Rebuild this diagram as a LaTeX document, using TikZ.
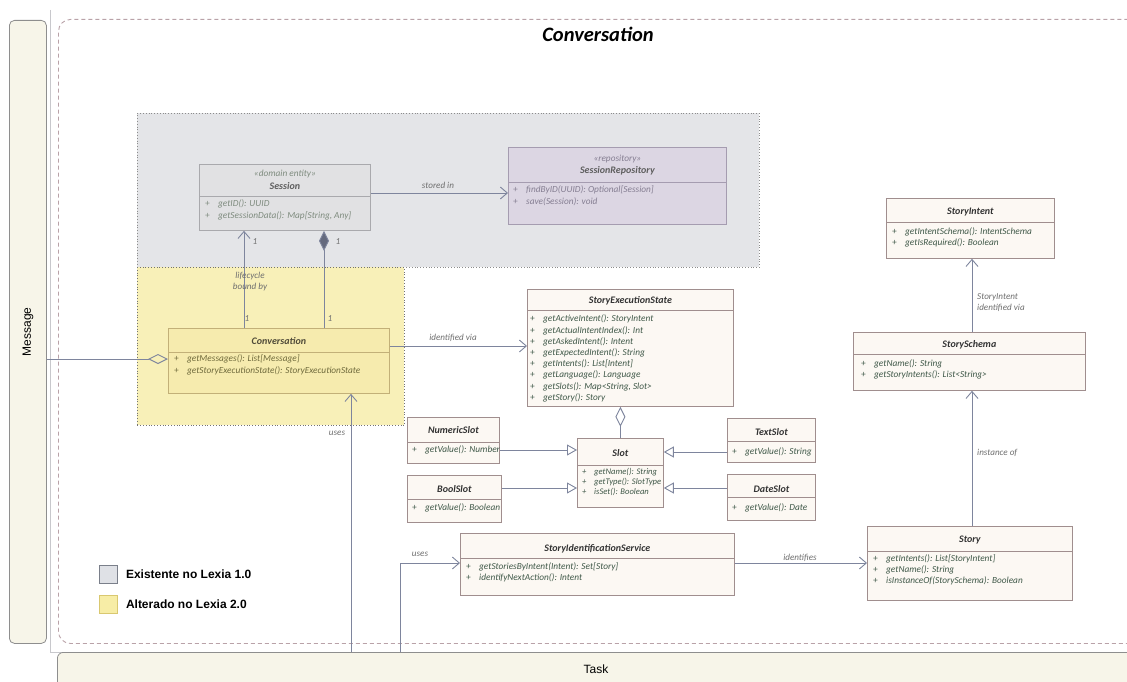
\documentclass[tikz,border=0pt]{standalone}
\usepackage{fontspec}
\setmainfont{Liberation Sans}
\newfontfamily\carl{Carlito}
\usetikzlibrary{arrows.meta}
\definecolor{clsfill}{HTML}{FCF8F3}
\definecolor{clsborder}{HTML}{A08E8E}
\definecolor{sessfill}{HTML}{E1E1E3}
\definecolor{sessborder}{HTML}{A9A9AD}
\definecolor{repofill}{HTML}{DCD6E3}
\definecolor{repoborder}{HTML}{A59CB0}
\definecolor{convfill}{HTML}{F6EBAE}
\definecolor{convborder}{HTML}{C2B078}
\definecolor{grayreg}{HTML}{E4E5E8}
\definecolor{yellowreg}{HTML}{F8F0B8}
\definecolor{methc}{HTML}{3F5848}
\definecolor{namec}{HTML}{333333}
\definecolor{sessmeth}{HTML}{7E8B7E}
\definecolor{sessname}{HTML}{5E5E5E}
\definecolor{repometh}{HTML}{857E92}
\definecolor{convmeth}{HTML}{6F6A3C}
\definecolor{convname}{HTML}{4F4A38}
\definecolor{lblc}{HTML}{6E6E6E}
\definecolor{conn}{HTML}{7E859D}
\definecolor{dashc}{HTML}{B9A2A8}
\definecolor{cream}{HTML}{F7F5E9}
\definecolor{edgegray}{HTML}{8E8E8E}
\definecolor{framec}{HTML}{C8C8CC}
\definecolor{lg1fill}{HTML}{DFE1E6}
\definecolor{lg1border}{HTML}{7A7F8A}
\definecolor{lg2fill}{HTML}{F7EDA6}
\definecolor{lg2border}{HTML}{D9C870}
\newcommand{\pl}{\makebox[13pt][l]{+}}
\tikzset{
  cls/.style={draw=clsborder, fill=clsfill, line width=0.8pt, inner sep=0pt, anchor=north west},
  sesscls/.style={cls, draw=sessborder, fill=sessfill},
  repocls/.style={cls, draw=repoborder, fill=repofill},
  convcls/.style={cls, draw=convborder, fill=convfill},
  cname/.style={font=\carl\bfseries\itshape\fontsize{10}{11}\selectfont, text=namec, inner sep=0pt},
  meth/.style={font=\carl\itshape\fontsize{9.3}{11.2}\selectfont, text=methc, align=left, inner sep=0pt, anchor=west},
  ster/.style={font=\carl\itshape\fontsize{9.3}{10}\selectfont, text=sessmeth, inner sep=0pt},
  lbl/.style={font=\carl\itshape\fontsize{9.1}{10}\selectfont, text=lblc, inner sep=0pt},
  assoc/.style={draw=conn, line width=0.9pt, -{Straight Barb[length=7pt,width=12pt]}},
  gen/.style={draw=conn, line width=0.9pt, -{Triangle[open,length=10pt,width=11pt]}},
  comp/.style={draw=conn, line width=0.9pt, -{Diamond[length=20pt,width=10pt,fill=conn!80!black]}},
  agg/.style={draw=conn, line width=0.9pt, -{Diamond[open,length=20pt,width=10pt]}},
  legtext/.style={font=\bfseries\fontsize{12}{14}\selectfont, anchor=west, inner sep=0pt},
}
\newcommand{\umlcls}[7]{%
  \node[#2,minimum width=#5pt,minimum height=#6pt] (#1) at (#3,#4) {};
  \draw[#2,fill=none] (#1.west |- 0,#7) -- (#1.east |- 0,#7);}
\begin{document}
\begin{tikzpicture}[x=1pt,y=-1pt]
\useasboundingbox (0,0) rectangle (1127,682);
% outer frame and swimlanes
\draw[framec, line width=0.8pt] (50,10) -- (50,652) -- (1127,652);
\node[draw=edgegray, fill=cream, rounded corners=5pt, line width=0.8pt, inner sep=0pt, anchor=north west, minimum width=37pt, minimum height=623pt] (msg) at (9,20) {};
\node[rotate=90, font=\fontsize{12}{14}\selectfont, inner sep=0pt] (msgT) at (msg.center) {Message};
\node[draw=dashc, dashed, dash pattern=on 4pt off 3pt, rounded corners=12pt, line width=0.9pt, inner sep=0pt, anchor=north west, minimum width=1082pt, minimum height=624pt] (cont) at (58,19) {};
\node[font=\carl\bfseries\itshape\fontsize{20.5}{22}\selectfont, inner sep=0pt] (contT) at (598,34) {Conversation};
% regions
\node[draw=gray!90, dotted, fill=grayreg, line width=0.8pt, inner sep=0pt, anchor=north west, minimum width=622pt, minimum height=154pt] (greg) at (137,113) {};
\node[draw=gray!110, dotted, fill=yellowreg, line width=0.8pt, inner sep=0pt, anchor=north west, minimum width=267pt, minimum height=158pt] (yreg) at (137,267) {};
% Session
\umlcls{sess}{sesscls}{199}{164}{171}{66}{196}
\node[ster] (sessS) at (sess.north |- 0,174) {«domain entity»};
\node[cname, text=sessname] (sessN) at (sess.north |- 0,186) {Session};
\node[meth, text=sessmeth, font=\carl\itshape\fontsize{9.3}{12}\selectfont] (sessM) at ([xshift=6pt]sess.west |- 0,210) {\pl getID(): UUID\\\pl getSessionData(): Map[String, Any]};
% SessionRepository
\umlcls{repo}{repocls}{508}{147}{218}{77}{182}
\node[ster, text=repometh] (repoS) at (repo.north |- 0,159) {«repository»};
\node[cname, text=sessname] (repoN) at (repo.north |- 0,171) {SessionRepository};
\node[meth, text=repometh, font=\carl\itshape\fontsize{9.3}{12}\selectfont] (repoM) at ([xshift=5pt]repo.west |- 0,196) {\pl findByID(UUID): Optional[Session]\\\pl save(Session): void};
% Conversation
\umlcls{conv}{convcls}{168}{328}{221}{65}{352}
\node[cname, text=convname] (convN) at (conv.north |- 0,341) {Conversation};
\node[meth, text=convmeth, font=\carl\itshape\fontsize{9.3}{12.5}\selectfont] (convM) at ([xshift=6pt]conv.west |- 0,365) {\pl getMessages(): List[Message]\\\pl getStoryExecutionState(): StoryExecutionState};
% StoryExecutionState
\umlcls{ses}{cls}{527}{289}{206}{117}{310}
\node[cname] (sesN) at (ses.north |- 0,301) {StoryExecutionState};
\node[meth] (sesM) at ([xshift=3pt]ses.west |- 0,358.5) {\pl getActiveIntent(): StoryIntent\\\pl getActualIntentIndex(): Int\\\pl getAskedIntent(): Intent\\\pl getExpectedIntent(): String\\\pl getIntents(): List[Intent]\\\pl getLanguage(): Language\\\pl getSlots(): Map<String, Slot>\\\pl getStory(): Story};
% Slot
\umlcls{slot}{cls}{577}{438}{86}{69}{465}
\node[cname] (slotN) at (slot.north |- 0,453) {Slot};
\node[meth, font=\carl\itshape\fontsize{8.6}{10.4}\selectfont] (slotM) at ([xshift=5pt]slot.west |- 0,482) {\makebox[12pt][l]{+}getName(): String\\\makebox[12pt][l]{+}getType(): SlotType\\\makebox[12pt][l]{+}isSet(): Boolean};
% NumericSlot
\umlcls{num}{cls}{407}{417}{92}{46}{442}
\node[cname] (numN) at (num.north |- 0,430) {NumericSlot};
\node[meth] (numM) at ([xshift=5pt]num.west |- 0,450) {\pl getValue(): Number};
% BoolSlot
\umlcls{bool}{cls}{407}{475}{94}{47}{499}
\node[cname] (boolN) at (bool.north |- 0,489) {BoolSlot};
\node[meth] (boolM) at ([xshift=5pt]bool.west |- 0,508) {\pl getValue(): Boolean};
% TextSlot
\umlcls{txt}{cls}{727}{418}{88}{44}{441}
\node[cname] (txtN) at (txt.north |- 0,432) {TextSlot};
\node[meth] (txtM) at ([xshift=5pt]txt.west |- 0,452) {\pl getValue(): String};
% DateSlot
\umlcls{date}{cls}{727}{474}{88}{46}{497}
\node[cname] (dateN) at (date.north |- 0,489) {DateSlot};
\node[meth] (dateM) at ([xshift=5pt]date.west |- 0,508) {\pl getValue(): Date};
% StoryIntent
\umlcls{intent}{cls}{886}{198}{168}{60}{222}
\node[cname] (intentN) at (intent.north |- 0,212) {StoryIntent};
\node[meth] (intentM) at ([xshift=6pt]intent.west |- 0,237.5) {\pl getIntentSchema(): IntentSchema\\\pl getIsRequired(): Boolean};
% StorySchema
\umlcls{schema}{cls}{853}{332}{232}{58}{354}
\node[cname] (schemaN) at (schema.north |- 0,345) {StorySchema};
\node[meth] (schemaM) at ([xshift=8pt]schema.west |- 0,369.5) {\pl getName(): String\\\pl getStoryIntents(): List<String>};
% Story
\umlcls{story}{cls}{867}{526}{205}{74}{551}
\node[cname] (storyN) at (story.north |- 0,540) {Story};
\node[meth] (storyM) at ([xshift=6pt]story.west |- 0,570) {\pl getIntents(): List[StoryIntent]\\\pl getName(): String\\\pl isInstanceOf(StorySchema): Boolean};
% StoryIdentificationService
\umlcls{sis}{cls}{460}{533}{274}{62}{558}
\node[cname] (sisN) at (sis.north |- 0,549) {StoryIdentificationService};
\node[meth] (sisM) at ([xshift=6pt]sis.west |- 0,572.5) {\pl getStoriesByIntent(Intent): Set[Story]\\\pl identifyNextAction(): Intent};
% Task lane
\node[draw=edgegray, fill=cream, rounded corners=6pt, line width=0.8pt, inner sep=0pt, anchor=north west, minimum width=1100pt, minimum height=50pt] (task) at (57,652) {};
\node[font=\fontsize{12}{14}\selectfont, inner sep=0pt] (taskT) at (596,669) {Task};
% connectors
\draw[assoc] (sess.east |- 0,193) -- (repo.west |- 0,193);
\node[lbl] (lStored) at (438,185) {stored in};
\draw[assoc] (conv.north -| 244,0) -- (sess.south -| 244,0);
\node[lbl] (l1a) at (255,242) {1};
\node[lbl] (l1b) at (247,319) {1};
\node[lbl, align=center, font=\carl\itshape\fontsize{9.1}{11}\selectfont] (lLife) at (250,282) {lifecycle\\bound by};
\draw[comp] (conv.north -| 324,0) -- (sess.south -| 324,0);
\node[lbl] (l1c) at (338,242) {1};
\node[lbl] (l1d) at (330,319) {1};
\draw[assoc] (conv.east |- 0,346) -- (ses.west |- 0,346);
\node[lbl] (lIdent) at (453,338) {identified via};
\draw[agg] (msg.east |- 0,359) -- (conv.west |- 0,359);
\draw[assoc] (task.north -| 351,0) -- (conv.south -| 351,0);
\node[lbl] (lUses1) at (337,433) {uses};
\draw[assoc] (task.north -| 400,0) |- (sis.west |- 0,563);
\node[lbl] (lUses2) at (420,554) {uses};
\draw[agg] (slot.north) -- (ses.south -| slot.north);
\draw[gen] (num.east |- 0,450) -- (slot.west |- 0,450);
\draw[gen] (bool.east |- 0,488) -- (slot.west |- 0,488);
\draw[gen] (txt.west |- 0,452) -- (slot.east |- 0,452);
\draw[gen] (date.west |- 0,488) -- (slot.east |- 0,488);
\draw[assoc] (schema.north -| 972,0) -- (intent.south -| 972,0);
\node[lbl, align=left, anchor=west, font=\carl\itshape\fontsize{9.1}{11}\selectfont] (lSI) at (977,303) {StoryIntent\\identified via};
\draw[assoc] (story.north -| 972,0) -- (schema.south -| 972,0);
\node[lbl, anchor=west] (lInst) at (977,453) {instance of};
\draw[assoc] (sis.east |- 0,563) -- (story.west |- 0,563);
\node[lbl] (lIdf) at (800,558) {identifies};
% legend
\node[draw=lg1border, fill=lg1fill, line width=0.8pt, inner sep=0pt, anchor=north west, minimum size=18pt] (lg1) at (99,565) {};
\node[legtext] (lg1T) at ([xshift=8pt]lg1.east) {Existente no Lexia 1.0};
\node[draw=lg2border, fill=lg2fill, line width=0.8pt, inner sep=0pt, anchor=north west, minimum size=18pt] (lg2) at (99,595) {};
\node[legtext] (lg2T) at ([xshift=8pt]lg2.east) {Alterado no Lexia 2.0};
\end{tikzpicture}
\end{document}
